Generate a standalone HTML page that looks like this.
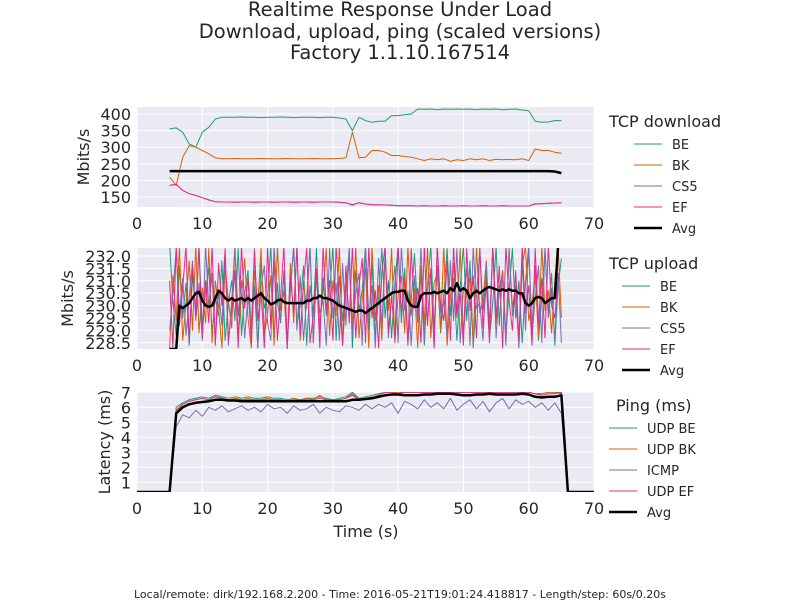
<!DOCTYPE html>
<html><head><meta charset="utf-8"><style>
body{margin:0;background:#fff;}
svg text{font-family:"DejaVu Sans","Liberation Sans",sans-serif;fill:#262626;}
</style></head><body>
<svg id="c" width="800" height="600" xmlns="http://www.w3.org/2000/svg">
<text x="400" y="16" font-size="19.5" text-anchor="middle">Realtime Response Under Load</text>
<text x="400" y="38" font-size="19.5" text-anchor="middle">Download, upload, ping (scaled versions)</text>
<text x="400" y="59" font-size="19.5" text-anchor="middle">Factory 1.1.10.167514</text>
<text x="400" y="598" font-size="11" text-anchor="middle">Local/remote: dirk/192.168.2.200 - Time: 2016-05-21T19:01:24.418817 - Length/step: 60s/0.20s</text>
<text x="366" y="537" font-size="16" text-anchor="middle">Time (s)</text>
</svg>
<script>
const colors=["#1b9e77","#d95f02","#7570b3","#e7298a","#000000"];
const xTicks=[0,10,20,30,40,50,60,70];
// Download (t = 5..65 step 1)
const dlBE=[355,358,345,310,300, 345,360,385,390,390, 390,391,390,390,389, 390,390,391,390,389, 390,390,390,389,390, 390,388,385, 350, 390,380,375,378,378, 395,395,398,400, 415,414,415,413,415, 414,415,414,415,413, 415,414,415,413,414, 415,412,410, 378,375,376,380,380];
const dlBK=[210,185,270,305,300, 290,280,268,265,265, 266,265,265,265,266, 265,265,265,266,265, 265,265,266,265,265, 265,266,268, 345, 268,270,290,290,285, 275,275,272,270, 265,260,265,262,265, 258,262,260,265,262, 265,260,264,262,263, 262,265,260, 295,290,290,285,282];
const dlCS5=[185,188,170,160,155, 148,142,136,135,135, 134,135,135,134,135, 135,134,135,135,134, 135,135,134,135,135, 135,134,133, 125, 133,129,127,127,126, 125,124,124,124, 123,124,123,123,124, 123,123,124,123,123, 124,123,123,124,123, 123,123,123, 130,130,131,132,133];
const dlEF=[185,188,170,160,155, 148,141,136,135,135, 134,135,135,134,135, 135,134,135,135,134, 135,135,134,135,135, 135,134,133, 127, 133,129,127,127,126, 125,124,124,124, 123,124,123,123,124, 123,123,124,123,123, 124,123,123,124,123, 123,123,123, 129,130,131,132,133];
const dlAvg=[228,228,228,228,228, 228,228,228,228,228, 228,228,228,228,228, 228,228,228,228,228, 228,228,228,228,228, 228,228,228, 228, 228,228,228,228,228, 228,228,228,228, 228,228,228,228,228, 228,228,228,228,228, 228,228,228,228,228, 228,228,228, 228,228,228,227,222];
// Upload (t = 5..65 step 0.5)
const ulBE=[232.5,230.2,228.8,231.6,229.5,230.9,228.4,231.2,229.8,232.4,229.1,230.6,231.5,228.9,230.3,229.6,231.8,228.6,230.1,231.0,229.4,232.3,228.8,230.5,231.4,229.0,230.8,228.3,231.7,229.9,230.4,232.4,228.7,230.9,229.3,231.3,228.5,230.6,232.4,229.2,230.0,231.6,228.4,230.8,229.7,232.3,228.9,231.1,229.6,230.5,232.4,228.6,231.2,229.4,230.7,232.2,228.3,231.4,229.8,230.6,232.4,229.0,231.7,228.8,230.3,232.3,229.5,231.0,228.7,230.9,232.4,229.3,231.5,228.5,230.2,232.1,229.7,231.3,228.4,230.8,232.4,229.1,231.6,228.9,230.4,232.3,229.6,231.1,228.6,230.7,232.4,229.4,231.8,228.3,230.5,232.2,229.8,231.2,228.7,230.1,232.4,229.2,231.4,228.8,230.6,232.3,229.5,231.0,228.5,230.9,232.4,229.0,231.6,228.6,230.3,232.2,229.7,231.3,228.4,230.8,231.9];
const ulBK=[228.2,231.2,229.4,232.4,228.6,230.1,231.8,229.0,232.4,228.9,230.7,229.3,232.3,228.5,231.0,229.9,228.3,231.6,230.2,229.1,232.4,228.7,230.4,231.9,229.5,228.3,231.4,230.0,232.3,228.8,229.7,231.2,228.4,232.4,229.8,230.6,228.2,231.7,229.3,232.4,228.6,230.9,229.9,232.4,228.5,231.3,229.2,230.6,232.3,228.8,231.0,229.6,232.4,228.4,230.5,231.8,229.1,232.4,228.7,230.2,231.5,228.3,232.4,229.4,230.8,228.6,231.9,229.8,232.3,228.5,230.4,231.2,228.9,232.4,229.6,230.7,228.3,231.6,229.2,232.4,228.7,230.9,231.3,229.0,232.4,228.4,230.3,231.7,229.5,232.3,228.8,230.6,231.1,228.5,232.4,229.7,230.2,231.8,228.9,232.4,229.3,230.5,231.4,228.6,232.3,229.9,230.8,228.4,231.6,232.4,229.4,230.1,231.2,228.7,232.4,229.8,230.6,228.9,231.0,232.4,229.5];
const ulCS5=[229.0,230.5,232.3,229.7,231.1,228.8,230.3,231.8,229.4,230.9,228.6,232.4,229.9,231.3,228.5,230.6,229.2,231.9,228.4,230.2,232.4,229.6,231.0,228.7,230.4,229.1,232.3,228.3,230.8,231.6,229.3,228.6,232.4,230.1,229.4,231.4,228.2,230.7,232.4,229.0,231.2,228.6,230.3,232.4,228.5,231.5,229.7,230.2,228.4,232.3,229.5,230.9,228.6,231.7,229.2,232.4,228.8,230.5,231.3,228.4,232.4,229.6,230.8,228.3,231.9,229.1,232.2,228.7,230.4,231.6,228.5,232.4,229.8,230.6,228.4,231.2,229.3,232.4,228.6,230.9,231.4,228.3,232.4,229.7,230.2,228.8,231.8,229.4,232.3,228.5,230.6,231.5,228.4,232.4,229.9,230.1,228.6,231.7,229.2,232.4,228.7,230.8,231.1,228.4,232.3,229.6,230.5,228.3,231.9,229.0,232.4,228.8,230.3,231.6,228.5,232.4,229.5,230.7,228.6,231.3,228.5];
const ulEF=[231.0,228.3,232.4,229.2,230.7,232.4,228.5,231.6,229.6,232.3,228.7,231.0,229.3,232.4,228.4,231.7,230.0,232.3,228.6,229.8,231.4,228.3,232.4,229.9,231.1,228.5,232.2,229.4,230.6,228.3,232.4,229.1,231.8,228.6,230.3,232.4,228.4,231.2,229.7,232.4,228.8,230.9,232.3,228.5,229.6,231.5,228.3,232.4,229.8,231.0,228.6,232.4,230.2,228.4,231.6,229.3,232.4,228.7,230.8,231.9,228.5,232.4,229.5,230.6,228.3,231.3,232.4,229.0,230.4,228.6,232.4,229.7,231.1,228.4,232.3,229.9,230.7,228.5,232.4,229.2,231.5,228.3,232.4,230.0,229.4,231.8,228.6,232.4,229.6,230.5,228.4,232.3,229.8,231.2,228.7,232.4,229.1,230.9,228.5,232.4,229.5,231.6,228.3,232.4,230.2,229.0,231.4,228.6,232.4,229.7,230.8,228.4,232.3,229.3,231.1,228.7,232.4,230.0,229.5,231.3];
const ulAvg=[228.0,228.0,228.0,230.0,229.9,230.0,230.1,230.3,230.5,230.55,230.2,230.0,229.95,230.0,230.3,230.6,230.5,230.3,230.2,230.3,230.2,230.25,230.3,230.2,230.3,230.2,230.3,230.4,230.5,230.3,230.2,230.05,230.1,230.2,230.25,230.15,230.1,230.1,230.1,230.1,230.1,230.1,230.2,230.2,230.3,230.3,230.4,230.3,230.3,230.25,230.2,230.1,230.0,229.95,229.9,229.85,229.8,229.75,229.8,229.8,229.7,229.8,229.9,230.0,230.1,230.2,230.3,230.4,230.5,230.55,230.55,230.6,230.6,230.2,230.0,229.95,229.95,230.4,230.5,230.5,230.5,230.55,230.5,230.55,230.6,230.5,230.7,230.6,230.9,230.6,230.7,230.6,230.3,230.5,230.6,230.5,230.6,230.7,230.75,230.7,230.65,230.6,230.65,230.6,230.65,230.6,230.6,230.5,230.5,230.1,230.0,230.1,230.3,230.35,230.3,230.1,230.2,230.3,230.3,232.4,232.4];
// Ping (t = 0..70 step 1)
const pgBE=[0,0,0,0,0,0,6.0,6.3,6.5,6.6,6.7,6.6,6.8,6.7,6.6,6.7,6.6,6.7,6.6,6.6,6.7,6.6,6.6,6.5,6.6,6.5,6.6,6.6,6.7,6.6,6.5,6.6,6.7,7.0,6.6,6.7,6.8,6.9,7.0,7.0,7.0,7.0,7.0,7.0,7.0,7.0,7.0,7.0,7.0,7.0,7.0,7.0,7.0,7.0,7.0,7.0,7.0,7.0,7.0,7.0,7.0,6.9,6.9,7.0,7.0,6.9,0,0,0,0,0];
const pgBK=[0,0,0,0,0,0,5.8,6.2,6.4,6.5,6.6,6.5,6.7,6.6,6.5,6.6,6.5,6.6,6.5,6.5,6.6,6.5,6.5,6.4,6.6,6.5,6.6,6.5,6.8,6.5,6.5,6.5,6.6,6.9,6.5,6.6,6.7,6.8,7.0,7.0,7.0,7.0,7.0,7.0,7.0,7.0,7.0,7.0,7.0,7.0,7.0,7.0,7.0,7.0,7.0,7.0,7.0,7.0,7.0,7.0,7.0,6.9,6.9,7.0,7.0,7.0,0,0,0,0,0];
const pgICMP=[0,0,0,0,0,0,4.7,5.5,5.3,5.8,5.4,6.0,5.8,6.1,5.7,5.9,6.1,5.8,6.0,5.7,6.2,5.9,6.0,5.6,6.1,5.8,5.9,6.2,5.6,6.0,5.8,5.7,6.1,6.0,5.8,6.2,5.9,6.2,6.0,6.3,5.6,6.4,6.2,5.9,6.5,6.0,6.3,5.9,6.6,5.8,6.2,6.5,5.9,6.4,5.7,6.3,6.6,5.9,6.5,6.2,6.4,6.0,6.3,5.8,6.3,5.6,0,0,0,0,0];
const pgEF=[0,0,0,0,0,0,5.7,6.2,6.4,6.5,6.6,6.5,6.7,6.6,6.5,6.5,6.5,6.5,6.5,6.5,6.5,6.5,6.5,6.4,6.5,6.5,6.5,6.5,6.6,6.5,6.5,6.5,6.6,6.8,6.5,6.6,6.6,6.8,7.0,7.0,6.9,7.0,7.0,7.0,7.0,7.0,7.0,7.0,7.0,7.0,7.0,7.0,7.0,7.0,7.0,7.0,7.0,7.0,7.0,7.0,7.0,6.9,6.8,6.9,6.9,7.0,0,0,0,0,0];
const pgAvg=[0,0,0,0,0,0,5.6,6.0,6.2,6.3,6.35,6.4,6.5,6.5,6.45,6.45,6.4,6.4,6.4,6.4,6.4,6.4,6.4,6.4,6.4,6.4,6.4,6.4,6.4,6.4,6.4,6.4,6.4,6.5,6.5,6.55,6.6,6.7,6.8,6.85,6.85,6.8,6.8,6.8,6.85,6.85,6.9,6.9,6.9,6.85,6.8,6.8,6.85,6.85,6.9,6.85,6.85,6.85,6.85,6.9,6.85,6.7,6.65,6.7,6.7,6.8,0,0,0,0,0];

const S="http://www.w3.org/2000/svg";
const svg=document.getElementById('c');
function el(tag,attrs,parent){const e=document.createElementNS(S,tag);for(const k in attrs)e.setAttribute(k,attrs[k]);(parent||svg).appendChild(e);return e;}
const X0=137,X1=594;
function xs(t){return X0+(t-0)/70*(X1-X0);}
let clipN=0;
function panel(cfg){
  const {top,bot,ymin,ymax,yticks,fmt,series,t0,dt,name}=cfg;
  const ys=v=>bot-(v-ymin)/(ymax-ymin)*(bot-top);
  const g=el('g',{});
  
  
  const bg=el('rect',{x:X0,y:top,width:X1-X0,height:bot-top,fill:'#eaeaf2'},g);
  
  
  xTicks.forEach(t=>{
    const gl=el('line',{x1:xs(t),x2:xs(t),y1:top,y2:bot,stroke:'#fff','stroke-width':1},g);
    
    
    const tx=el('text',{x:xs(t),y:bot+22,'font-size':16,'text-anchor':'middle'},g);
    tx.textContent=t;
    
    
  });
  yticks.forEach(v=>{
    const gl=el('line',{x1:X0,x2:X1,y1:ys(v),y2:ys(v),stroke:'#fff','stroke-width':1},g);
    
    
    const tx=el('text',{x:X0-6,y:ys(v)+6,'font-size':16,'text-anchor':'end'},g);
    tx.textContent=fmt(v);
    
    
  });
  const id='clip'+(clipN++);
  const cp=el('clipPath',{id:id},g);el('rect',{x:X0,y:top,width:X1-X0,height:bot-top},cp);
  series.forEach((s,i)=>{
    const pts=s.d.map((v,j)=>{const y=Math.min(bot,ys(v));return xs(t0+j*dt).toFixed(1)+','+y.toFixed(1);}).join(' ');
    const pl=el('polyline',{points:pts,fill:'none',stroke:s.c,'stroke-width':s.w,'clip-path':'url(#'+id+')','stroke-linejoin':'round'},g);
    
    
  });
  const L=cfg.legend;
  const lt=el('text',{x:L.tx,y:L.ty,'font-size':16},g);lt.textContent=L.title;
  
  
  series.forEach((s,i)=>{
    const y=L.y0+i*21;
    const ln=el('line',{x1:L.lx,x2:L.lx+28,y1:y,y2:y,stroke:s.c,'stroke-width':s.w},g);
    
    
    const t=el('text',{x:L.lx+38,y:y+5,'font-size':13},g);t.textContent=s.n;
    
    
  });
  const yl=el('text',{transform:'translate('+cfg.ylx+','+((top+bot)/2)+') rotate(-90)','font-size':16,'text-anchor':'middle'},g);
  yl.textContent=cfg.ylabel;
  
  
}
panel({name:'download',top:107,bot:207,ymin:120,ymax:421,yticks:[150,200,250,300,350,400],fmt:v=>v,t0:5,dt:1,
 series:[{n:'BE',d:dlBE,c:colors[0],w:1},{n:'BK',d:dlBK,c:colors[1],w:1},{n:'CS5',d:dlCS5,c:colors[2],w:1},{n:'EF',d:dlEF,c:colors[3],w:1},{n:'Avg',d:dlAvg,c:colors[4],w:2.5}],
 legend:{title:'TCP download',tx:609,ty:127,lx:634,y0:144},ylabel:'Mbits/s',ylx:89});
panel({name:'upload',top:248,bot:349,ymin:228.25,ymax:232.32,yticks:[228.5,229,229.5,230,230.5,231,231.5,232],fmt:v=>v.toFixed(1),t0:5,dt:0.5,
 series:[{n:'BE',d:ulBE,c:colors[0],w:1},{n:'BK',d:ulBK,c:colors[1],w:1},{n:'CS5',d:ulCS5,c:colors[2],w:1},{n:'EF',d:ulEF,c:colors[3],w:1},{n:'Avg',d:ulAvg,c:colors[4],w:2.5}],
 legend:{title:'TCP upload',tx:609,ty:269,lx:622,y0:286},ylabel:'Mbits/s',ylx:73});
panel({name:'ping',top:392,bot:492,ymin:0.35,ymax:7.02,yticks:[1,2,3,4,5,6,7],fmt:v=>v,t0:0,dt:1,
 series:[{n:'UDP BE',d:pgBE,c:colors[0],w:1},{n:'UDP BK',d:pgBK,c:colors[1],w:1},{n:'ICMP',d:pgICMP,c:colors[2],w:1},{n:'UDP EF',d:pgEF,c:colors[3],w:1},{n:'Avg',d:pgAvg,c:colors[4],w:2.5}],
 legend:{title:'Ping (ms)',tx:616,ty:411,lx:609,y0:428},ylabel:'Latency (ms)',ylx:110});
</script>
</body></html>
